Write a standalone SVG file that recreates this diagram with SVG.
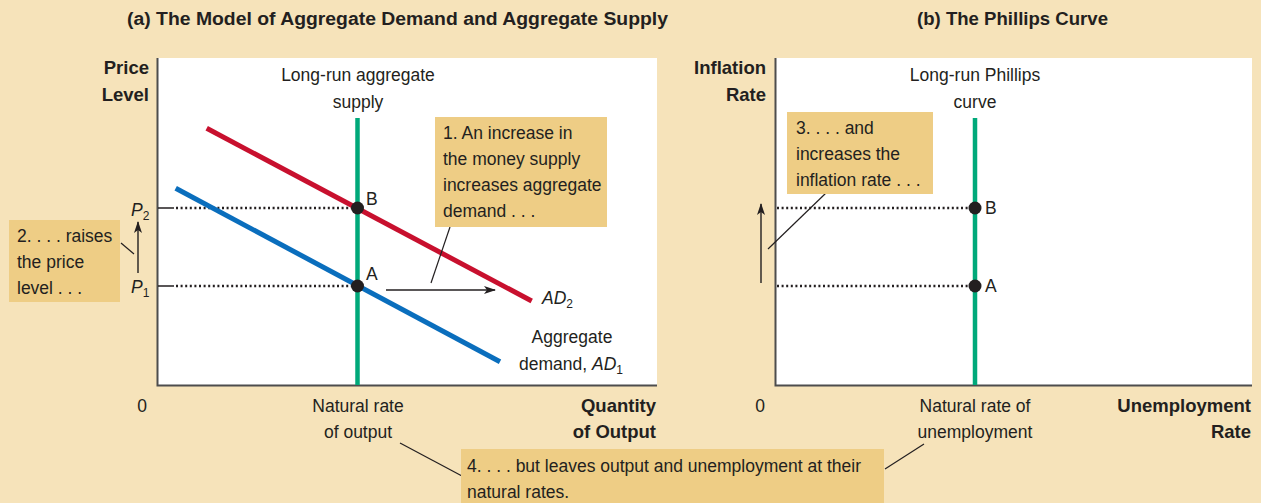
<svg xmlns="http://www.w3.org/2000/svg" width="1261" height="503" viewBox="0 0 1261 503">
<style>
text{font-family:"Liberation Sans",Arial,sans-serif;fill:#231f20;font-size:17.5px}
.b{font-weight:bold;font-size:18.5px}
.t{font-weight:bold;font-size:18px}
.m{text-anchor:middle}
.e{text-anchor:end}
.i{font-style:italic}
.s{font-size:12px}
.box{fill:#eecd85}
.ax{stroke:#4d4d4d;stroke-width:2;fill:none}
.dot{stroke:#231f20;stroke-width:2.4;stroke-dasharray:2 2.6;fill:none}
.lead{stroke:#231f20;stroke-width:1.2;fill:none}
.arr{stroke:#231f20;stroke-width:1.4;fill:none;marker-end:url(#ah)}
.grn{stroke:#00a97a;stroke-width:4.5}
.pt{fill:#231f20}
</style>
<defs>
<marker id="ah" viewBox="0 0 12 8" refX="11" refY="4" markerWidth="12" markerHeight="8" markerUnits="userSpaceOnUse" orient="auto">
<path d="M0,0 L12,4 L0,8 L3,4 Z" fill="#231f20"/>
</marker>
</defs>
<rect width="1261" height="503" fill="#f6e3ba"/>
<text class="t" x="127" y="25" textLength="541" lengthAdjust="spacingAndGlyphs">(a) The Model of Aggregate Demand and Aggregate Supply</text>
<text class="t" x="917" y="25" textLength="191" lengthAdjust="spacingAndGlyphs">(b) The Phillips Curve</text>

<g id="panel-a">
<rect x="158" y="58" width="499" height="327" fill="#fff"/>
<path class="ax" d="M157.5,58 V385.5 H657"/>
<text class="b e" x="149" y="74">Price</text>
<text class="b e" x="149" y="101">Level</text>
<text class="m" x="142" y="412">0</text>
<text class="m" x="358" y="412">Natural rate</text>
<text class="m" x="358" y="438">of output</text>
<text class="b e" x="656" y="412">Quantity</text>
<text class="b e" x="656" y="438">of Output</text>
<text class="m" x="358" y="81">Long-run aggregate</text>
<text class="m" x="358" y="108">supply</text>
</g>

<g id="panel-b">
<rect x="775" y="58" width="477" height="327" fill="#fff"/>
<path class="ax" d="M775.5,58 V385.5 H1252"/>
<text class="b e" x="766" y="74">Inflation</text>
<text class="b e" x="766" y="101">Rate</text>
<text class="m" x="760" y="412">0</text>
<text class="m" x="975" y="412">Natural rate of</text>
<text class="m" x="975" y="438">unemployment</text>
<text class="b e" x="1251" y="412">Unemployment</text>
<text class="b e" x="1251" y="438">Rate</text>
<text class="m" x="975" y="81">Long-run Phillips</text>
<text class="m" x="975" y="108">curve</text>
</g>

<g id="connectors">
<path d="M158,208 H174 M158,286 H174" stroke="#231f20" stroke-width="1.4"/>
<path class="dot" d="M176,208 H357 M176,286 H357"/>
<path class="dot" d="M777,208 H975 M777,286 H975"/>
<line x1="206.7" y1="128.3" x2="531.7" y2="301" stroke="#c8102e" stroke-width="5"/>
<line x1="175.7" y1="188.3" x2="500" y2="361.7" stroke="#0a6ebd" stroke-width="5"/>
<line class="grn" x1="357.5" y1="118" x2="357.5" y2="385"/>
<line class="grn" x1="975" y1="118" x2="975" y2="385"/>
<line class="arr" x1="386" y1="290" x2="495" y2="290"/>
<line class="arr" x1="138" y1="273" x2="138" y2="222"/>
<line class="arr" x1="761" y1="283" x2="761" y2="204"/>
<line class="lead" x1="450" y1="227" x2="431" y2="283"/>
<line class="lead" x1="121" y1="243" x2="134" y2="254"/>
<line class="lead" x1="826" y1="193" x2="768" y2="249"/>
<line class="lead" x1="400" y1="443" x2="462" y2="476"/>
<line class="lead" x1="885" y1="469" x2="924" y2="444"/>
</g>

<g id="point-B-a"><circle class="pt" cx="357.5" cy="208" r="6.5"/><text x="366" y="205">B</text></g>
<g id="point-A-a"><circle class="pt" cx="357.5" cy="286" r="6.5"/><text x="366" y="280">A</text></g>
<g id="point-B-b"><circle class="pt" cx="975" cy="208" r="6.5"/><text x="985" y="214">B</text></g>
<g id="point-A-b"><circle class="pt" cx="975" cy="286" r="6.5"/><text x="985" y="292">A</text></g>

<g id="labels-p">
<text x="131" y="216"><tspan class="i">P</tspan><tspan class="s" dy="4">2</tspan></text>
<text x="131" y="293"><tspan class="i">P</tspan><tspan class="s" dy="4">1</tspan></text>
</g>
<g id="label-AD2"><text x="542" y="304"><tspan class="i">AD</tspan><tspan class="s" dy="4">2</tspan></text></g>
<g id="label-AD1">
<text class="m" x="572" y="343">Aggregate</text>
<text class="e" x="623" y="370">demand, <tspan class="i">AD</tspan><tspan class="s" dy="4">1</tspan></text>
</g>

<g id="callout-1">
<rect class="box" x="435" y="117" width="172" height="110"/>
<text x="443" y="139">1. An increase in</text>
<text x="443" y="165">the money supply</text>
<text x="443" y="191">increases aggregate</text>
<text x="443" y="217">demand . . .</text>
</g>
<g id="callout-2">
<rect class="box" x="9" y="220" width="111" height="82"/>
<text x="17" y="242">2. . . . raises</text>
<text x="17" y="268">the price</text>
<text x="17" y="294">level . . .</text>
</g>
<g id="callout-3">
<rect class="box" x="787" y="112" width="146" height="82"/>
<text x="796" y="134">3. . . . and</text>
<text x="796" y="160">increases the</text>
<text x="796" y="186">inflation rate . . .</text>
</g>
<g id="callout-4">
<rect class="box" x="461" y="449" width="423" height="54"/>
<text x="467" y="472">4. . . . but leaves output and unemployment at their</text>
<text x="467" y="498">natural rates.</text>
</g>
</svg>
